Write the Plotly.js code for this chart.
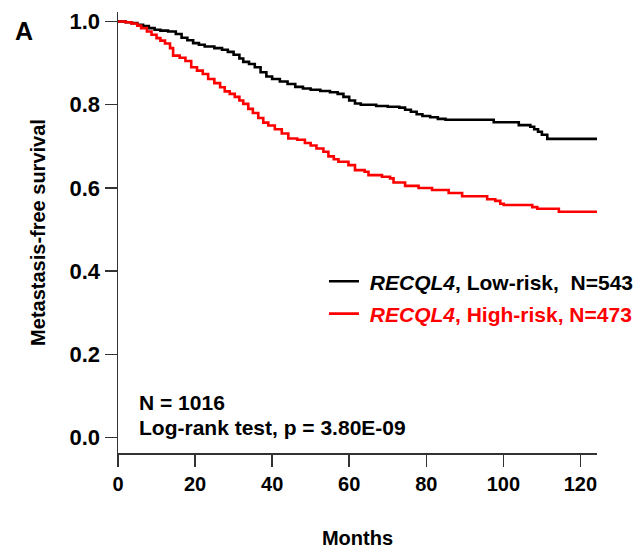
<!DOCTYPE html>
<html>
<head>
<meta charset="utf-8">
<script src="https://cdn.plot.ly/plotly-3.0.1.min.js"></script>
<style>html,body{margin:0;padding:0;background:#fff;}#chart{width:643px;height:549px;}</style>
</head>
<body>
<div id="chart"></div>
<script>
// Kaplan-Meier step points (months, survival)
const lowRiskMonths = [0, 2, 3.5, 5, 6.5, 8, 9.5, 11, 13, 15, 16.5, 18, 19.5, 21, 22.5, 25, 27, 28.5, 30, 31.5, 32.5, 34, 35.5, 37, 38.5, 40, 42, 44, 46, 48, 50, 52.5, 55, 57, 58.5, 60, 61.5, 63, 67, 70, 73, 74.5, 76, 77.5, 79, 81, 83, 85, 97.5, 104, 107, 108, 109, 110, 111.4, 124.3];
const lowRiskSurv = [1.0, 0.998, 0.996, 0.992, 0.989, 0.984, 0.980, 0.978, 0.976, 0.970, 0.961, 0.955, 0.948, 0.944, 0.940, 0.936, 0.932, 0.927, 0.920, 0.911, 0.903, 0.898, 0.890, 0.878, 0.868, 0.862, 0.856, 0.850, 0.843, 0.839, 0.836, 0.833, 0.830, 0.826, 0.819, 0.810, 0.803, 0.800, 0.797, 0.795, 0.793, 0.788, 0.783, 0.777, 0.773, 0.770, 0.766, 0.764, 0.758, 0.751, 0.747, 0.741, 0.735, 0.728, 0.718, 0.718];

const highRiskMonths = [0, 2, 3.5, 5, 6, 7.5, 8.7, 10, 11, 12.2, 13.5, 14.3, 16, 17.5, 19, 20.5, 22, 23.4, 25, 26.5, 27.7, 29, 30.3, 31.5, 32.5, 33.8, 35, 36.4, 37.7, 39, 40.7, 42.5, 44.2, 46.5, 48.5, 50, 51.5, 53.3, 54.6, 56, 57.2, 59.8, 61.5, 64, 65, 68.5, 70.6, 71.5, 74.5, 78, 81.5, 85.8, 89.3, 95.8, 97.9, 99.2, 100.1, 107.5, 108.8, 114.4, 124.3];
const highRiskSurv = [1.0, 0.998, 0.995, 0.990, 0.984, 0.976, 0.968, 0.960, 0.954, 0.947, 0.936, 0.918, 0.913, 0.905, 0.890, 0.882, 0.874, 0.862, 0.852, 0.842, 0.832, 0.826, 0.819, 0.810, 0.802, 0.790, 0.780, 0.768, 0.757, 0.750, 0.741, 0.731, 0.719, 0.716, 0.708, 0.702, 0.695, 0.687, 0.676, 0.669, 0.663, 0.655, 0.643, 0.639, 0.631, 0.627, 0.623, 0.613, 0.605, 0.600, 0.595, 0.588, 0.580, 0.573, 0.569, 0.562, 0.559, 0.554, 0.550, 0.543, 0.543];

const xTicks = [0, 20, 40, 60, 80, 100, 120];
const yTicks = [0.0, 0.2, 0.4, 0.6, 0.8, 1.0];
const yTickLabels = ['0.0', '0.2', '0.4', '0.6', '0.8', '1.0'];

const FONT = 'Liberation Sans, Arial, Helvetica, sans-serif';

const traces = [
  {
    x: lowRiskMonths, y: lowRiskSurv, type: 'scatter', mode: 'lines',
    line: {shape: 'hv', color: '#000000', width: 2.6},
    name: '&nbsp;<i>RECQL4</i>, Low-risk,&nbsp; N=543', legendgroup: 'a'
  },
  {
    x: highRiskMonths, y: highRiskSurv, type: 'scatter', mode: 'lines',
    line: {shape: 'hv', color: '#ff0000', width: 2.6},
    name: '<span style="color:#ff0000">&nbsp;<i>RECQL4</i>, High-risk, N=473</span>', legendgroup: 'b'
  }
];

const layout = {
  width: 643, height: 549,
  margin: {l: 118, r: 46, t: 12, b: 96, autoexpand: false},
  paper_bgcolor: '#ffffff', plot_bgcolor: '#ffffff',
  font: {family: FONT, size: 21, color: '#000', weight: 'bold'},
  showlegend: true,
  legend: {
    x: 0.43, y: 0.435, xanchor: 'left', yanchor: 'top',
    bgcolor: 'rgba(0,0,0,0)', borderwidth: 0,
    font: {family: FONT, size: 21, color: '#000', weight: 'bold'},
    traceorder: 'grouped', tracegroupgap: 2
  },
  xaxis: {
    range: [0, 124.3], tickvals: xTicks, ticks: 'outside', ticklen: 12, tickwidth: 1.5,
    tickcolor: '#333', showline: true, linecolor: '#333', linewidth: 1.5,
    showgrid: false, zeroline: false, automargin: false,
    tickfont: {family: FONT, size: 20, color: '#000', weight: 'bold'},
    title: {text: 'Months', standoff: 40, font: {family: FONT, size: 20, color: '#000', weight: 'bold'}}
  },
  yaxis: {
    range: [-0.0367, 1.0228], tickvals: yTicks, ticktext: yTickLabels, ticks: 'outside', ticklen: 12, tickwidth: 1.5,
    tickcolor: '#333', showline: true, linecolor: '#333', linewidth: 1.5,
    showgrid: false, zeroline: false, automargin: false,
    tickfont: {family: FONT, size: 22, color: '#000', weight: 'bold'},
    title: {text: 'Metastasis-free survival', standoff: 18, font: {family: FONT, size: 20, color: '#000', weight: 'bold'}}
  },
  annotations: [
    {text: 'A', xref: 'paper', yref: 'paper', x: -0.196, y: 0.957, xanchor: 'center', yanchor: 'middle',
     showarrow: false, font: {family: FONT, size: 25, color: '#000', weight: 'bold'}},
    {text: 'N = 1016', xref: 'paper', yref: 'paper', x: 0.04, y: 0.114, xanchor: 'left', yanchor: 'middle',
     showarrow: false, font: {family: FONT, size: 21, color: '#000', weight: 'bold'}},
    {text: 'Log-rank test, p = 3.80E-09', xref: 'paper', yref: 'paper', x: 0.04, y: 0.057, xanchor: 'left', yanchor: 'middle',
     showarrow: false, font: {family: FONT, size: 21, color: '#000', weight: 'bold'}}
  ]
};

Plotly.newPlot('chart', traces, layout, {displayModeBar: false, staticPlot: true});
</script>
</body>
</html>
